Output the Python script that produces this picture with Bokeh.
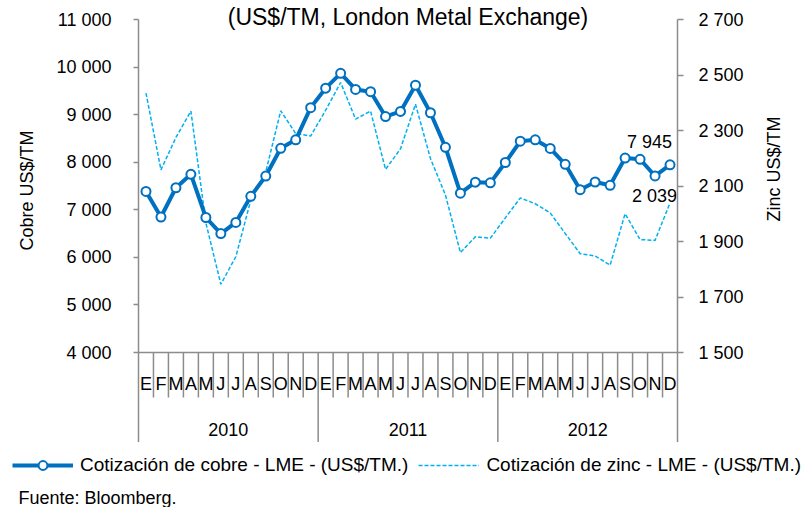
import math
from bokeh.plotting import figure
from bokeh.layouts import column
from bokeh.models import (Range1d, LinearAxis, FixedTicker, Span, Label, Legend, LegendItem, Title)
from bokeh.core.properties import value
from bokeh.embed import file_html
from bokeh.resources import INLINE

# ---------------- data ----------------
years = ["2010", "2011", "2012"]
month_letters = ["E", "F", "M", "A", "M", "J", "J", "A", "S", "O", "N", "D"]
copper = [7386, 6848, 7463, 7745, 6838, 6499, 6735, 7284, 7709, 8292, 8470, 9147,
          9556, 9868, 9530, 9483, 8960, 9067, 9619, 9040, 8314, 7350, 7581, 7566,
          7994, 8441, 8471, 8289, 7955, 7423, 7584, 7515, 8088, 8062, 7711, 7945]
zinc = [2435, 2158, 2275, 2370, 1967, 1746, 1845, 2049, 2151, 2371, 2289, 2280,
        2373, 2473, 2341, 2370, 2160, 2234, 2395, 2199, 2068, 1860, 1917, 1912,
        1985, 2057, 2036, 2003, 1929, 1856, 1848, 1815, 2000, 1907, 1904, 2039]
copper_ticks = [4000, 5000, 6000, 7000, 8000, 9000, 10000, 11000]
copper_tick_labels = ["4 000", "5 000", "6 000", "7 000", "8 000", "9 000", "10 000", "11 000"]
zinc_ticks = [1500, 1700, 1900, 2100, 2300, 2500, 2700]
zinc_tick_labels = ["1 500", "1 700", "1 900", "2 100", "2 300", "2 500", "2 700"]
title_text = "(US$/TM, London Metal Exchange)"
copper_name = "Cotización de cobre - LME - (US$/TM.)"
zinc_name = "Cotización de zinc - LME - (US$/TM.)"
left_title = "Cobre US$/TM"
right_title = "Zinc US$/TM"
source_text = "Fuente: Bloomberg."

# ---------------- layout ----------------
FONT = "Liberation Sans"
FS = "18px"
BLUE = "#0070C0"
LIGHT = "#00B0F0"
GRAY = "#8c8c8c"
W, H = 805, 507
FL, FR = 138, 677          # frame left / right
TOP_PAD = 19               # px above the top tick (room for the title)
PLOT_H = 333               # px of the value scale (top tick to bottom tick)
EXT = 90                   # px band below the value scale (month / year labels)
H1 = TOP_PAD + PLOT_H + EXT
H2 = H - H1

n = len(copper)
xs = [i + 0.5 for i in range(n)]
months = month_letters * len(years)

c_lo, c_hi = copper_ticks[0], copper_ticks[-1]
z_lo, z_hi = zinc_ticks[0], zinc_ticks[-1]
c_per_px = (c_hi - c_lo) / PLOT_H
z_per_px = (z_hi - z_lo) / PLOT_H
c_bottom = c_lo - EXT * c_per_px
z_bottom = z_lo - EXT * z_per_px

p = figure(width=W, height=H1, output_backend="svg", toolbar_location=None,
           x_range=Range1d(0, n),
           y_range=Range1d(c_bottom, c_hi + TOP_PAD * c_per_px),
           x_axis_location=None, min_border_left=FL, min_border_right=W - FR,
           min_border_top=0, min_border_bottom=0)
p.extra_y_ranges = {"zinc": Range1d(z_bottom, z_hi + TOP_PAD * z_per_px)}
p.xgrid.visible = False
p.ygrid.visible = False
p.outline_line_color = None
p.background_fill_color = "white"
p.border_fill_color = "white"

def style_axis(ax, ticks, labels, tick_out, standoff, bottom):
    ax.ticker = FixedTicker(ticks=ticks)
    ax.bounds = (bottom, ticks[-1])
    ax.major_label_overrides = {t: l for t, l in zip(ticks, labels)}
    ax.axis_line_color = GRAY
    ax.axis_line_width = 1.5
    ax.major_tick_line_color = GRAY
    ax.major_tick_line_width = 1.5
    ax.major_tick_in = 0
    ax.major_tick_out = tick_out
    ax.minor_tick_line_color = None
    ax.major_label_standoff = standoff
    ax.major_label_text_font = FONT
    ax.major_label_text_font_size = FS
    ax.major_label_text_color = "black"

style_axis(p.yaxis[0], copper_ticks, copper_tick_labels, 5, 22, c_bottom)
raxis = LinearAxis(y_range_name="zinc")
style_axis(raxis, zinc_ticks, zinc_tick_labels, 6, 15, z_bottom)
p.add_layout(raxis, "right")

# right axis title (reads bottom to top)
if "axis_label_orientation" in raxis.properties():
    raxis.axis_label = right_title
    raxis.axis_label_orientation = math.pi / 2
    raxis.axis_label_standoff = 27
    raxis.axis_label_text_font = FONT
    raxis.axis_label_text_font_size = FS
    raxis.axis_label_text_font_style = "normal"
    raxis.axis_label_text_color = "black"
else:
    p.add_layout(Title(text=right_title, align="left", offset=130, vertical_align="bottom",
                       standoff=27, text_font=FONT, text_font_size=FS,
                       text_font_style="normal", text_color="black"), "right")

# left axis title
p.add_layout(Title(text=left_title, align="left", offset=H1 - 250, vertical_align="top",
                   standoff=30, text_font=FONT, text_font_size=FS,
                   text_font_style="normal", text_color="black"), "left")

# baseline of value area
p.add_layout(Span(location=c_lo, dimension="width", line_color=GRAY, line_width=1.5))

# month separators and year separators
year_bounds = [i for i in range(12, n, 12)]
month_b = [b for b in range(1, n) if b not in year_bounds]
p.segment(x0=month_b, y0=[c_lo] * len(month_b), x1=month_b,
          y1=[c_lo - 45 * c_per_px] * len(month_b), line_color=GRAY, line_width=1.5)
p.segment(x0=year_bounds, y0=[c_lo] * len(year_bounds), x1=year_bounds,
          y1=[c_bottom] * len(year_bounds), line_color=GRAY, line_width=1.5)

p.text(x=xs, y=[c_lo] * n, text=months, text_align="center", text_baseline="middle",
       y_offset=31, text_font=value(FONT), text_font_size=FS, text_color="black")
p.text(x=[12 * k + 6 for k in range(len(years))], y=[c_lo] * len(years), text=years,
       text_align="center", text_baseline="middle", y_offset=77,
       text_font=value(FONT), text_font_size=FS, text_color="black")

# series
zl = p.line(xs, zinc, y_range_name="zinc", line_color=LIGHT, line_width=1.5, line_dash="4 2")
cl = p.line(xs, copper, line_color=BLUE, line_width=4)
cm = p.scatter(xs, copper, marker="circle", size=9, fill_color="white",
               line_color=BLUE, line_width=2)

fmt = lambda v: f"{v:,}".replace(",", " ")
p.text(x=[xs[-1]], y=[copper[-1]], text=[fmt(copper[-1])], text_align="right",
       text_baseline="middle", x_offset=2, y_offset=-23,
       text_font=value(FONT), text_font_size=FS, text_color="black")
p.text(x=[xs[-1]], y=[zinc[-1]], text=[fmt(zinc[-1])], y_range_name="zinc",
       text_align="right", text_baseline="middle", x_offset=7, y_offset=-7,
       text_font=value(FONT), text_font_size=FS, text_color="black")

# chart title (inside the frame's top band)
p.add_layout(Label(x=n / 2, y=c_hi, y_offset=3, text=title_text, text_align="center",
                   text_baseline="middle", text_font=FONT, text_font_size="23px",
                   text_color="black"))

# ---------------- legend / source strip ----------------
p2 = figure(width=W, height=H2, output_backend="svg", toolbar_location=None,
            x_range=Range1d(0, W), y_range=Range1d(0, H2),
            x_axis_location=None, y_axis_location=None,
            min_border_left=0, min_border_right=0, min_border_top=0, min_border_bottom=0)
p2.xgrid.visible = False
p2.ygrid.visible = False
p2.outline_line_color = None
p2.background_fill_color = "white"
p2.border_fill_color = "white"
for fig in (p, p2):
    if "frame_align" in fig.properties():
        fig.frame_align = False

# same series in the strip (outside its view) so the legend keys have real renderers
lz = p2.line(xs, zinc, line_color=LIGHT, line_width=1.5, line_dash="4 2")
lc = p2.line(xs, copper, line_color=BLUE, line_width=4)
lm = p2.scatter(xs, copper, marker="circle", size=9, fill_color="white",
                line_color=BLUE, line_width=2)
legend = Legend(items=[LegendItem(label=copper_name, renderers=[lc, lm]),
                       LegendItem(label=zinc_name, renderers=[lz])],
                location=(12, H2 - 34), orientation="horizontal", glyph_width=61,
                glyph_height=22, label_height=22, spacing=10, padding=0, margin=0,
                label_standoff=7, border_line_color=None, background_fill_alpha=0,
                label_text_font=FONT, label_text_font_size="19px",
                label_text_color="black")
p2.add_layout(legend)
p2.add_layout(Label(x=18, y=H - 497, x_units="screen", y_units="screen", text=source_text,
                    text_align="left", text_baseline="alphabetic",
                    text_font=FONT, text_font_size=FS, text_color="black"))

open("out.html", "w").write(file_html(column(p, p2, spacing=0), INLINE))
